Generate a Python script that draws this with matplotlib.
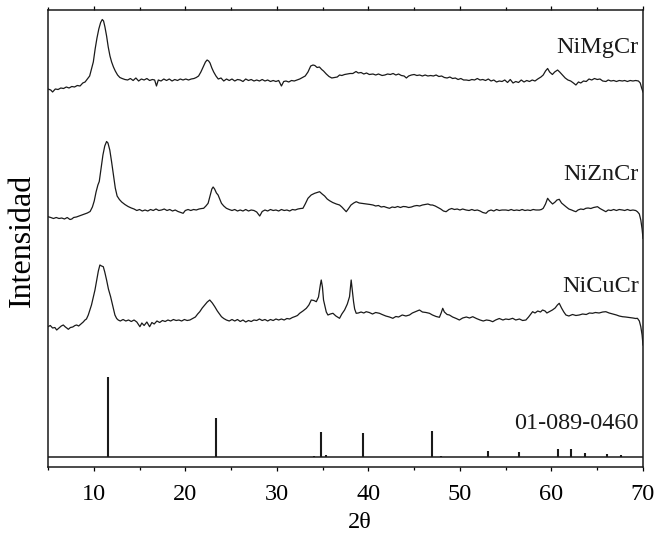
import matplotlib
matplotlib.use('Agg')
import matplotlib.pyplot as plt
from matplotlib.ticker import MultipleLocator

plt.rcParams['font.family'] = ['Liberation Serif', 'DejaVu Serif']

# NiMgCr (top trace), intensity in arbitrary units incl. stacking offset
tt_mg = [5.0, 5.3, 5.5, 5.8, 6.1, 6.4, 6.7, 7.0, 7.3, 7.6, 7.9, 8.2, 8.5, 8.8, 9.05, 9.3, 9.55, 9.75, 9.95, 10.15,
         10.35, 10.55, 10.75, 10.93, 11.07, 11.22, 11.4, 11.58, 11.77, 11.95, 12.15, 12.35, 12.6, 12.85, 13.1, 13.4,
         13.7, 14.0, 14.3, 14.6, 14.9, 15.2, 15.5, 15.8, 16.1, 16.4, 16.65, 16.85, 17.05, 17.35, 17.65, 17.95, 18.25,
         18.55, 18.85, 19.15, 19.45, 19.75, 20.05, 20.35, 20.65, 20.95, 21.2, 21.45, 21.7, 21.95, 22.2, 22.38, 22.55,
         22.7, 22.9, 23.1, 23.35, 23.6, 23.9, 24.2, 24.5, 24.8, 25.1, 25.4, 25.7, 26.0, 26.3, 26.6, 26.9, 27.2, 27.5,
         27.8, 28.1, 28.4, 28.7, 29.0, 29.3, 29.6, 29.9, 30.2, 30.5, 30.75, 31.0, 31.3, 31.6, 31.9, 32.2, 32.5, 32.8,
         33.1, 33.4, 33.7, 33.95, 34.15, 34.4, 34.65, 34.9, 35.1, 35.4, 35.7, 36.0, 36.3, 36.6, 36.85, 37.1, 37.4,
         37.7, 38.0, 38.3, 38.65, 38.9, 39.2, 39.5, 39.8, 40.1, 40.5, 40.8, 41.1, 41.5, 41.8, 42.1, 42.4, 42.7, 43.0,
         43.3, 43.6, 43.9, 44.15, 44.4, 44.7, 45.0, 45.3, 45.6, 45.9, 46.2, 46.5, 46.8, 47.1, 47.4, 47.7, 48.0, 48.3,
         48.6, 48.9, 49.2, 49.5, 49.8, 50.1, 50.4, 50.7, 51.0, 51.3, 51.6, 51.9, 52.2, 52.5, 52.8, 53.1, 53.4, 53.7,
         54.0, 54.3, 54.6, 54.9, 55.2, 55.5, 55.8, 56.1, 56.4, 56.7, 57.0, 57.3, 57.6, 57.9, 58.2, 58.5, 58.85, 59.1,
         59.35, 59.58, 59.8, 60.1, 60.35, 60.67, 60.9, 61.2, 61.5, 61.8, 62.1, 62.4, 62.67, 62.95, 63.2, 63.5, 63.8,
         64.1, 64.4, 64.7, 65.0, 65.3, 65.6, 65.95, 66.2, 66.5, 66.8, 67.1, 67.4, 67.75, 68.0, 68.3, 68.6, 68.9, 69.2,
         69.5, 69.7, 69.85, 70.0]
int_mg = [378, 377, 375, 378, 377.5, 379, 378.5, 380, 379, 380.5, 380, 381.5, 381, 384, 385, 388, 391, 398, 405, 418,
          429, 438, 444.5, 447.5, 446, 440, 431, 420, 411, 405, 400, 396, 392, 389.5, 388.5, 387.5,
          387, 388.5, 386.5, 389, 386, 388, 387, 388.5, 386.5, 387.5, 387, 381, 387, 386, 388, 386.5, 388,
          386, 387.5, 386.5, 388, 387, 388, 387, 388, 388.5, 389.5, 391, 395, 400, 405, 407, 406,
          404, 399, 395, 391, 388, 389, 386, 388, 386.5, 388, 386, 387.5, 387, 385.5, 388, 386.5, 387.5, 386,
          387, 386, 387.5, 386, 387, 385.5, 386.5, 385.5, 386.5, 381, 385.5, 386, 385, 386.5, 386, 387, 388, 389.5,
          391, 395, 401, 402, 401.5, 399.5, 400, 397.5, 396, 393, 390.5, 389, 389.5, 390, 392, 391.5, 392.5,
          393, 393.5, 393.5, 395.5, 394, 394.5, 393, 394, 392.5, 393, 392, 393, 391.5, 392, 393, 392.5, 393.5, 392,
          393, 391.5, 391, 389, 391, 392, 392.5, 391.5, 392, 391, 392, 391, 391.5, 391, 392, 390.5, 391, 389.5,
          389, 390, 388.5, 389, 387.5, 388.5, 387, 387, 386.5, 387.5, 387, 388.5, 387, 387.5, 386.5, 388, 386, 387,
          385, 386, 385.5, 387, 384.5, 387.5, 384, 385.5, 384.5, 387, 385, 386.5, 385.5, 387, 386, 388, 390, 392,
          396, 398.5, 395, 392.5, 395, 397, 395, 392, 389, 387, 386, 384, 382, 385, 384, 386, 385.5,
          388, 387, 388.5, 387.5, 388, 386, 385.5, 387, 386, 386.5, 385.5, 386.5, 386, 386.5, 385.5, 386.5, 386, 386.5,
          386, 384, 379, 375]

# NiZnCr (middle trace)
tt_zn = [5.0, 5.3, 5.6, 5.9, 6.2, 6.5, 6.8, 7.1, 7.4, 7.6, 7.8, 8.1, 8.4, 8.7, 9.0, 9.3, 9.6, 9.85, 10.05, 10.25,
         10.45, 10.6, 10.8, 11.0, 11.2, 11.4, 11.55, 11.75, 11.95, 12.15, 12.35, 12.55, 12.8, 13.05, 13.4, 13.75,
         14.1, 14.4, 14.7, 15.0, 15.3, 15.6, 15.9, 16.2, 16.5, 16.8, 17.1, 17.4, 17.7, 18.0, 18.3, 18.6, 18.9, 19.2,
         19.5, 19.76, 20.0, 20.3, 20.6, 20.9, 21.2, 21.5, 21.8, 22.0, 22.25, 22.49, 22.7, 22.9, 23.04, 23.2, 23.4,
         23.58, 23.8, 23.95, 24.2, 24.49, 24.8, 25.1, 25.4, 25.7, 26.0, 26.3, 26.6, 26.9, 27.2, 27.5, 27.8, 28.13,
         28.4, 28.7, 29.0, 29.3, 29.6, 29.9, 30.2, 30.5, 30.8, 31.1, 31.4, 31.7, 32.0, 32.3, 32.6, 32.85, 33.1, 33.4,
         33.75, 34.13, 34.4, 34.67, 34.95, 35.22, 35.5, 35.76, 36.1, 36.5, 36.85, 37.1, 37.4, 37.58, 37.8, 38.1,
         38.4, 38.67, 39.0, 39.4, 39.8, 40.2, 40.5, 40.8, 41.1, 41.4, 41.7, 42.0, 42.3, 42.6, 42.9, 43.2, 43.5, 43.8,
         44.1, 44.4, 44.7, 45.0, 45.3, 45.6, 45.9, 46.2, 46.5, 46.8, 47.0, 47.3, 47.6, 47.9, 48.2, 48.49, 48.8, 49.1,
         49.4, 49.7, 50.0, 50.3, 50.67, 51.0, 51.3, 51.6, 51.9, 52.2, 52.5, 52.85, 53.1, 53.4, 53.7, 54.0, 54.3,
         54.6, 55.03, 55.3, 55.6, 55.9, 56.2, 56.5, 56.8, 57.1, 57.4, 57.7, 58.0, 58.3, 58.67, 58.9, 59.1, 59.35,
         59.58, 59.8, 60.12, 60.4, 60.6, 60.85, 61.1, 61.35, 61.58, 61.9, 62.2, 62.45, 62.67, 62.9, 63.2, 63.5,
         63.76, 64.0, 64.3, 64.6, 65.03, 65.3, 65.6, 65.94, 66.2, 66.5, 66.8, 67.1, 67.4, 67.76, 68.0, 68.3, 68.6,
         68.9, 69.2, 69.39, 69.6, 69.76, 69.9, 70.0]
int_zn = [250.3, 249.5, 248.5, 249.5, 248.5, 249, 248, 249.5, 247.5, 248, 249.5, 250, 251, 252, 253, 254, 255.5, 260, 266, 275,
          282, 285.5, 299, 312, 321, 325.5, 324, 317, 305, 292, 279, 271, 267.5, 265, 262.5, 260.5,
          259, 258, 256.5, 257.5, 256, 257, 256, 257.5, 256.5, 258, 256.5, 257, 258, 256.5, 257.5, 256, 257, 255.5,
          254.5, 253.7, 256.5, 257.5, 256.5, 257.5, 257, 258, 258.5, 258.7, 261, 263.7, 271, 278, 280, 278, 274,
          272, 267, 263.7, 261, 258.7, 257.5, 256.5, 257.5, 256, 257, 256, 257.5, 256, 257, 256.5, 255, 251,
          255.5, 257, 256, 257.5, 256.5, 257, 256, 257.5, 256.5, 257, 256, 257.5, 257, 258, 258.5, 258.7, 263, 268.7,
          272, 273.7, 274.5, 275.3, 273, 271, 268, 266.3, 264.5, 263, 262, 260, 257, 255.3, 258, 262,
          264, 265.3, 264, 263.5, 263, 262.5, 262, 261, 261.5, 260, 260.5, 259.5, 258.7, 260, 259.5, 260.5, 259.5, 260.5,
          260.3, 259.5, 260, 261, 261.5, 261, 262, 262.5, 263, 262, 262, 261, 259.5, 258, 256, 255.3, 257.5, 258.5,
          257.5, 258, 257, 258, 257, 256.5, 257.5, 256.5, 257, 256, 254.5, 253.7, 256, 257, 256, 257.5, 256.5,
          257, 257, 256.5, 257.5, 256.5, 257, 256.5, 257.5, 256.5, 257, 256.5, 257.5, 257, 257, 257.5, 258.7, 263,
          268.7, 266, 263, 265, 267, 267.7, 264, 262, 260.3, 258, 257, 256, 255.3, 257, 258, 257.5,
          258.7, 259, 258.5, 259.5, 260.3, 258.5, 257, 255.3, 257, 256.5, 257.5, 256.5, 257.5, 257, 256.5, 257.5, 256.5,
          257, 256.5, 255.3, 253, 247, 238, 228.7]

# NiCuCr (lower trace)
tt_cu = [5.0, 5.25, 5.5, 5.75, 5.95, 6.2, 6.45, 6.67, 6.9, 7.05, 7.22, 7.45, 7.7, 7.95, 8.13, 8.35, 8.6, 8.85, 9.04,
         9.2, 9.4, 9.58, 9.75, 9.95, 10.13, 10.3, 10.5, 10.67, 10.85, 11.04, 11.2, 11.4, 11.6, 11.84, 12.05, 12.31,
         12.5, 12.67, 12.9, 13.2, 13.5, 13.8, 14.1, 14.4, 14.7, 15.04, 15.25, 15.5, 15.8, 16.1, 16.35, 16.6, 16.9,
         17.2, 17.5, 17.8, 18.1, 18.4, 18.7, 19.0, 19.3, 19.6, 19.9, 20.2, 20.5, 20.85, 21.1, 21.35, 21.58, 21.85,
         22.13, 22.4, 22.67, 22.95, 23.22, 23.5, 23.95, 24.2, 24.49, 24.8, 25.1, 25.4, 25.7, 26.0, 26.3, 26.6, 26.9,
         27.2, 27.5, 27.8, 28.1, 28.4, 28.7, 29.0, 29.3, 29.6, 29.9, 30.2, 30.5, 30.8, 31.1, 31.4, 31.7, 32.0, 32.25,
         32.49, 32.85, 33.22, 33.5, 33.76, 34.05, 34.31, 34.55, 34.75, 34.85, 34.98, 35.1, 35.22, 35.4, 35.58, 35.85,
         36.13, 36.45, 36.85, 37.1, 37.4, 37.7, 37.94, 38.05, 38.12, 38.25, 38.38, 38.5, 38.67, 38.9, 39.2, 39.5,
         39.76, 40.1, 40.45, 40.8, 41.21, 41.5, 41.9, 42.3, 42.67, 43.0, 43.3, 43.7, 44.1, 44.49, 44.8, 45.2, 45.58,
         45.9, 46.3, 46.67, 47.0, 47.4, 47.76, 47.95, 48.12, 48.3, 48.6, 48.85, 49.2, 49.6, 49.94, 50.3, 50.7, 51.05,
         51.4, 51.8, 52.2, 52.55, 52.9, 53.25, 53.58, 53.9, 54.3, 54.7, 55.0, 55.35, 55.76, 56.1, 56.5, 56.85, 57.21,
         57.5, 57.75, 57.94, 58.2, 58.5, 58.8, 59.03, 59.3, 59.5, 59.76, 60.1, 60.4, 60.65, 60.85, 61.1, 61.35,
         61.58, 61.9, 62.3, 62.67, 63.03, 63.4, 63.8, 64.15, 64.49, 64.8, 65.2, 65.6, 65.94, 66.3, 66.7, 67.1, 67.4,
         67.76, 68.1, 68.5, 68.9, 69.2, 69.39, 69.6, 69.76, 69.9, 70.0]
int_cu = [140.3, 141.5, 139, 139.5, 137, 139, 141, 142, 140, 139, 137.7, 139.5, 140, 141.5, 142, 141, 143, 145, 147,
          148, 152, 157, 162, 170, 177, 186, 196, 202, 201, 200.3, 195, 187, 178, 170.3, 162, 152,
          148.5, 147, 146, 147.5, 146, 147, 145.5, 147, 145, 140.3, 144, 141.5, 145, 140.3, 144.5, 143, 146,
          144.5, 146.5, 145.5, 147, 146, 147.5, 146.5, 147, 146, 147.5, 146.5, 147, 148.7, 150, 153, 155.3, 159,
          162, 165, 167, 164, 160.3, 156, 150.3, 148.5, 147, 146, 147.5, 146, 147.5, 145.5, 147, 145, 146.5,
          145.5, 147, 146.5, 148, 146.5, 147.5, 146, 147.5, 146.5, 148, 147, 148, 147, 148.5, 148, 149.5, 150.5, 151.5,
          153.7, 156, 158.7, 162, 167, 166.5, 165.3, 170, 182, 187, 180, 167, 162, 155, 152, 153,
          153.7, 151, 148.7, 153, 157, 163, 170.3, 180, 187, 176, 165.3, 158, 153.7, 154, 155, 154,
          155.3, 154.5, 153, 154.5, 153.7, 152.5, 151, 150, 148.7, 150.5, 150, 152, 151, 152, 154, 155.5, 157,
          155, 154.5, 153.7, 152, 150.5, 149.7, 154, 158.7, 155, 152.5, 152, 150, 148.5, 147, 149, 150, 149,
          150.3, 148.5, 147, 146, 147, 146.5, 145.3, 147, 148.5, 147, 148, 147.5, 148.7, 147, 148, 146.5, 147,
          150, 153, 155.3, 154, 156, 155, 157, 156, 154, 155.3, 157, 159, 162, 163.7, 159, 155,
          152, 151, 152.5, 151.5, 152, 153, 152.5, 154, 153.7, 154.5, 154, 155, 155.3, 154, 153, 152, 151,
          150.3, 150, 149.5, 149, 148.5, 148.7, 146, 140.3, 132, 122]

# reference pattern 01-089-0460
ref_base = 10
ref_pos = [11.58, 23.4, 34.1, 34.86, 35.4, 39.4, 46.93, 47.9, 53.1, 56.5, 60.74, 62.13, 63.69, 66.05, 67.65]
ref_height = [80, 38.7, 1, 25.3, 2, 23.7, 26.3, 1, 6.3, 5, 7.7, 7.7, 3.7, 3, 2.3]

labels = ['NiMgCr', 'NiZnCr', 'NiCuCr', '01-089-0460']
label_y = [414, 287, 175, 38]

fig = plt.figure(figsize=(6.55, 5.4), dpi=100)
ax = fig.add_axes([48/655, 1-467/540, 595/655, 457/540])

ax.plot(tt_mg, int_mg, color='#1a1a1a', lw=0.9)
ax.plot(tt_zn, int_zn, color='#1a1a1a', lw=0.9)
ax.plot(tt_cu, int_cu, color='#1a1a1a', lw=0.9)
ax.hlines(ref_base, 5, 70, color='#1a1a1a', lw=1.1)
ax.vlines(ref_pos, ref_base, [ref_base + h for h in ref_height], color='#1a1a1a', lw=1.5)

for lab, yy in zip(labels, label_y):
    ax.text(69.55, yy, lab, ha='right', va='baseline', fontsize=17.5, color='#1a1a1a')

ax.set_xlim(5, 70)
ax.set_ylim(0, 457)
ax.xaxis.set_major_locator(MultipleLocator(10))
ax.xaxis.set_minor_locator(MultipleLocator(5))
ax.tick_params(axis='x', which='major', direction='out', length=3, width=0.9, labelsize=17.5, pad=9, top=True)
ax.tick_params(axis='x', which='minor', direction='out', length=2, width=0.9, top=True)
ax.set_yticks([])
for s in ax.spines.values():
    s.set_linewidth(1.1)
    s.set_color('#1a1a1a')

ax.set_xlabel('2θ', fontsize=17.5)
ax.xaxis.set_label_coords((360-48)/595, -0.098)
fig.text(22/655, 1-240/540, 'Intensidad', rotation=90, ha='center', va='center', fontsize=23)

fig.savefig('out.png', dpi=100)
